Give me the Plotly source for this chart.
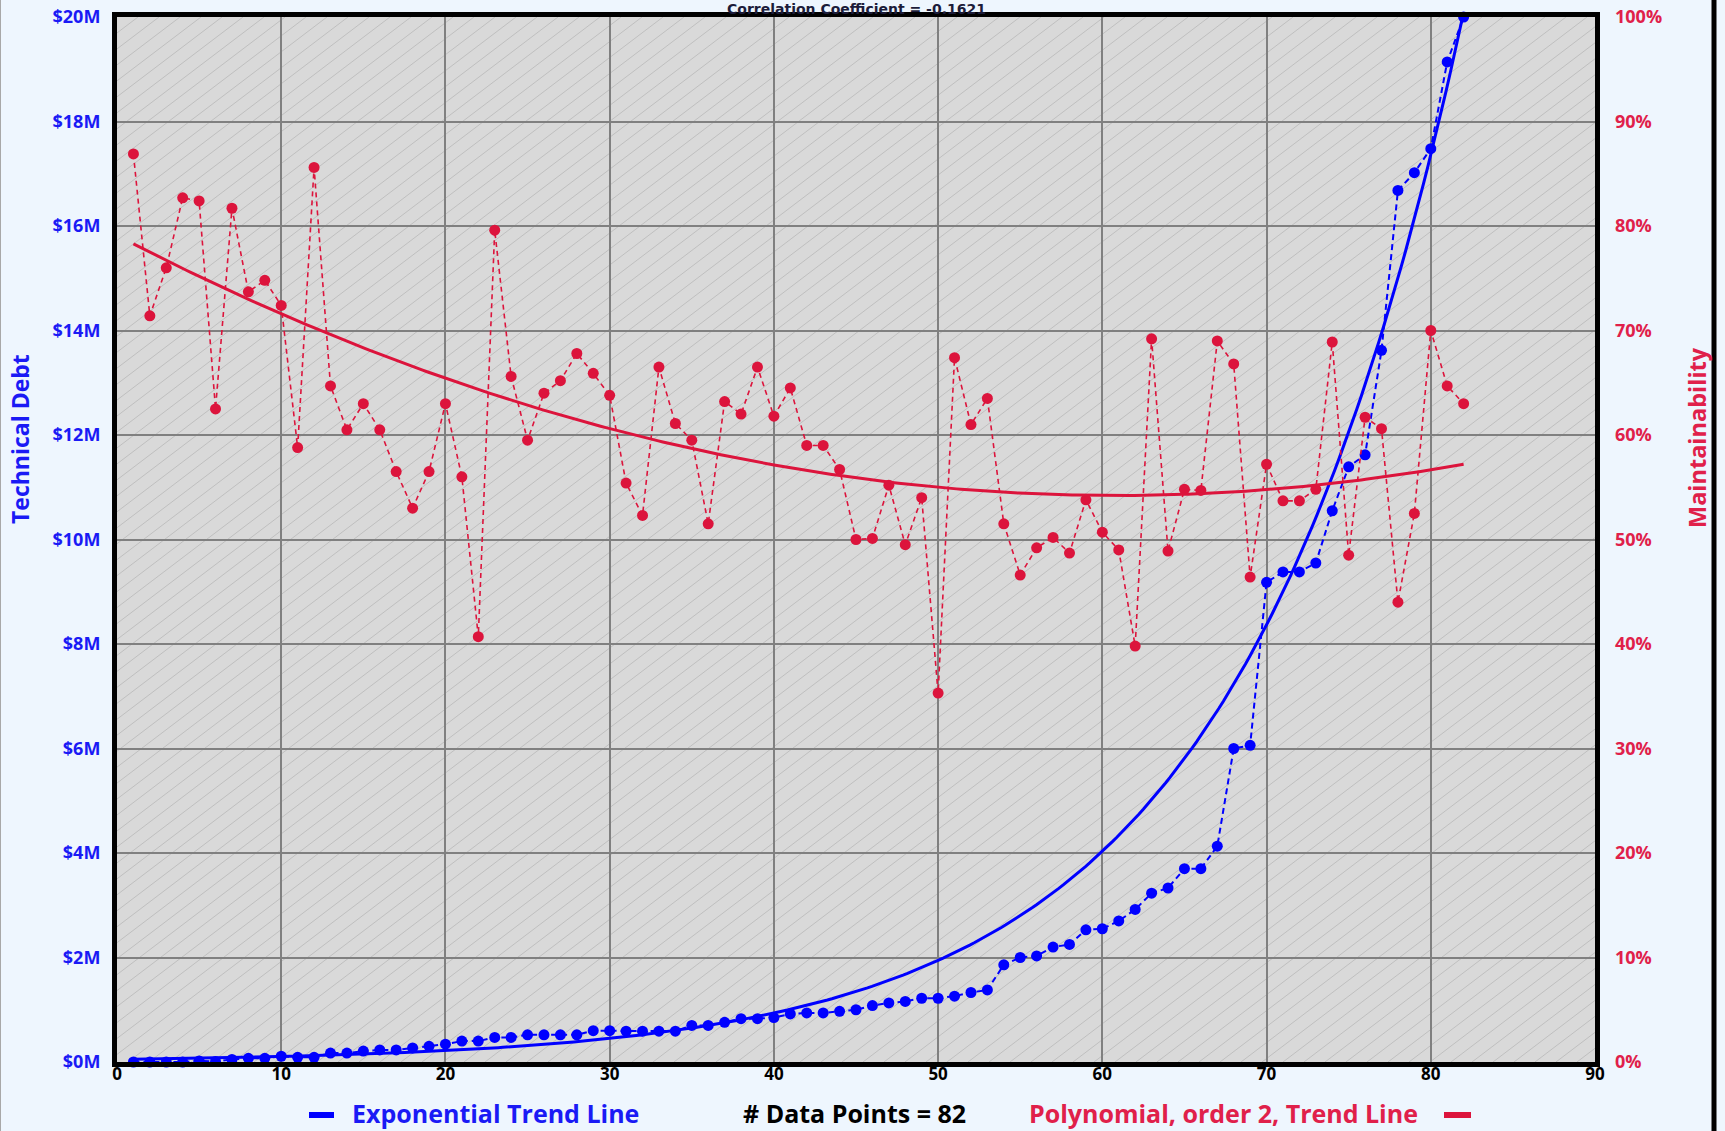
import numpy as np
import plotly.graph_objects as go

# ---- data -------------------------------------------------------------
RUN = list(range(1, 83))

TECH_DEBT_M = [
    0.0, 0.0, 0.0, 0.0, 0.02, 0.01, 0.05, 0.07, 0.07, 0.11,
    0.09, 0.09, 0.17, 0.17, 0.21, 0.23, 0.23, 0.27, 0.30, 0.34,
    0.40, 0.40, 0.47, 0.47, 0.52, 0.52, 0.52, 0.52, 0.60, 0.60,
    0.59, 0.59, 0.59, 0.59, 0.70, 0.70, 0.76, 0.83, 0.83, 0.85,
    0.92, 0.94, 0.94, 0.97, 1.00, 1.08, 1.13, 1.16, 1.22, 1.22,
    1.26, 1.33, 1.38, 1.86, 2.00, 2.03, 2.20, 2.25, 2.53, 2.55,
    2.70, 2.92, 3.23, 3.33, 3.70, 3.70, 4.13, 6.00, 6.06, 9.18,
    9.38, 9.38, 9.55, 10.55, 11.39, 11.62, 13.62, 16.68, 17.02, 17.48,
    19.14, 20.0,
]

MAINTAINABILITY_PCT = [
    86.9, 71.4, 76.0, 82.7, 82.4, 62.5, 81.7, 73.7, 74.8, 72.4,
    58.8, 85.6, 64.7, 60.5, 63.0, 60.5, 56.5, 53.0, 56.5, 63.0,
    56.0, 40.7, 79.6, 65.6, 59.5, 64.0, 65.2, 67.8, 65.9, 63.8,
    55.4, 52.3, 66.5, 61.1, 59.5, 51.5, 63.2, 62.0, 66.5, 61.8,
    64.5, 59.0, 59.0, 56.7, 50.0, 50.1, 55.2, 49.5, 54.0, 35.3,
    67.4, 61.0, 63.5, 51.5, 46.6, 49.2, 50.2, 48.7, 53.8, 50.7,
    49.0, 39.8, 69.2, 48.9, 54.8, 54.7, 69.0, 66.8, 46.4, 57.2,
    53.7, 53.7, 54.8, 68.9, 48.5, 61.7, 60.6, 44.0, 52.5, 70.0,
    64.7, 63.0,
]

X_TICKS = list(range(0, 91, 10))
DEBT_TICKS = list(range(0, 21, 2))
DEBT_TICK_TEXT = [f"${v}M" for v in DEBT_TICKS]
PCT_TICKS = list(range(0, 101, 10))
PCT_TICK_TEXT = [f"{v}%" for v in PCT_TICKS]

CORRELATION_TEXT = "Correlation Coefficient = -0.1621"

# trend-line coefficients
EXP_A, EXP_B = 0.0505, 0.073            # debt ($M) = A * exp(B * run)
POLY_COEFFS = [0.00672, -0.818, 79.1]   # maintainability (%) = a*x^2 + b*x + c

# ---- styling ----------------------------------------------------------
W, H = 1725, 1131
L, R, T, B = 117, 130, 17, 69
PW, PH = W - L - R, H - T - B

BLUE = "#0000FF"
BLUE_TXT = "#1A1AF5"
RED = "#DC143C"
RED_TXT = "#E0204A"
FONT = "Open Sans"


def px_x(p):
    return (p - L) / PW


def px_y(p):
    return (T + PH - p) / PH


def hatch_path(width_px, height_px, spacing, slope):
    segs = []
    d = -height_px / slope
    while d < width_px:
        xa = max(d, 0.0)
        ya = slope * (xa - d)
        xb = min(width_px, d + height_px / slope)
        yb = slope * (xb - d)
        if xb > xa and ya < height_px:
            segs.append(
                f"M{xa / width_px:.5f},{ya / height_px:.5f}"
                f"L{xb / width_px:.5f},{yb / height_px:.5f}"
            )
        d += spacing
    return "".join(segs)


# ---- trend lines --------------------------------------------------------
x_fine = np.linspace(min(RUN), max(RUN), 300)
poly_trend = np.polyval(POLY_COEFFS, x_fine)
exp_trend = EXP_A * np.exp(EXP_B * x_fine)

fig = go.Figure()

fig.add_trace(go.Scatter(
    x=RUN, y=MAINTAINABILITY_PCT, yaxis="y2", mode="lines+markers",
    line=dict(color=RED, width=1.6, dash="5px,4px"),
    marker=dict(color=RED, size=11),
    cliponaxis=False, showlegend=False,
))
fig.add_trace(go.Scatter(
    x=x_fine, y=poly_trend, yaxis="y2", mode="lines",
    line=dict(color=RED, width=3), showlegend=False,
))
fig.add_trace(go.Scatter(
    x=RUN, y=TECH_DEBT_M, mode="lines+markers",
    line=dict(color=BLUE, width=2, dash="6px,4px"),
    marker=dict(color=BLUE, size=11),
    cliponaxis=False, showlegend=False,
))
fig.add_trace(go.Scatter(
    x=x_fine, y=exp_trend, mode="lines",
    line=dict(color=BLUE, width=3), showlegend=False,
))

shapes = [
    # plot background with diagonal hatching
    dict(type="rect", xref="paper", yref="paper", x0=0, x1=1, y0=0, y1=1,
         fillcolor="#D9D9D9", line=dict(width=0), layer="below"),
    dict(type="path", xref="paper", yref="paper",
         path=hatch_path(PW, PH, 21, 0.76),
         line=dict(color="#BFBFBF", width=1), layer="below"),
    # page frame
    dict(type="line", xref="paper", yref="paper",
         x0=px_x(0.5), x1=px_x(0.5), y0=px_y(0), y1=px_y(H),
         line=dict(color="#A8A8A8", width=1)),
    dict(type="line", xref="paper", yref="paper",
         x0=px_x(1714), x1=px_x(1714), y0=px_y(0), y1=px_y(H),
         line=dict(color="black", width=5)),
    # legend swatches
    dict(type="line", xref="paper", yref="paper",
         x0=px_x(309), x1=px_x(334), y0=px_y(1115), y1=px_y(1115),
         line=dict(color=BLUE, width=6)),
    dict(type="line", xref="paper", yref="paper",
         x0=px_x(1444), x1=px_x(1471), y0=px_y(1115), y1=px_y(1115),
         line=dict(color=RED, width=6)),
]

annotations = [
    dict(text=f"<b>{CORRELATION_TEXT}</b>", xref="paper", yref="paper",
         x=0.5, y=1, xanchor="center", yanchor="middle", yshift=8,
         showarrow=False,
         font=dict(family="DejaVu Sans", size=14, color="#1C1C3A")),
    dict(text="<b>Technical Debt</b>", xref="paper", yref="paper",
         x=px_x(20), y=px_y(439), xanchor="center", yanchor="middle",
         textangle=-90, showarrow=False,
         font=dict(family=FONT, size=23, color=BLUE_TXT)),
    dict(text="<b>Maintainability</b>", xref="paper", yref="paper",
         x=px_x(1697), y=px_y(438), xanchor="center", yanchor="middle",
         textangle=-90, showarrow=False,
         font=dict(family=FONT, size=23.5, color=RED_TXT)),
    dict(text="<b>Exponential Trend Line</b>", xref="paper", yref="paper",
         x=px_x(350), y=px_y(1113), xanchor="left", yanchor="middle",
         showarrow=False, font=dict(family=FONT, size=25, color=BLUE_TXT)),
    dict(text=f"<b># Data Points = {len(RUN)}</b>", xref="paper", yref="paper",
         x=px_x(854), y=px_y(1113), xanchor="center", yanchor="middle",
         showarrow=False, font=dict(family=FONT, size=25, color="black")),
    dict(text="<b>Polynomial, order 2, Trend Line</b>", xref="paper", yref="paper",
         x=px_x(1420), y=px_y(1113), xanchor="right", yanchor="middle",
         showarrow=False, font=dict(family=FONT, size=25, color=RED_TXT)),
]

fig.update_layout(
    width=W, height=H,
    margin=dict(l=L, r=R, t=T, b=B, pad=0, autoexpand=False),
    paper_bgcolor="#EEF6FE",
    plot_bgcolor="rgba(0,0,0,0)",
    shapes=shapes,
    annotations=annotations,
    xaxis=dict(
        range=[0, 90], tickvals=X_TICKS, ticks="", automargin=False,
        showgrid=True, gridcolor="#808080", gridwidth=1.5, zeroline=False,
        showline=True, linecolor="black", linewidth=5, mirror=True,
        tickfont=dict(family=FONT, size=17, color="black", weight=700),
        ticklabelstandoff=-7,
    ),
    yaxis=dict(
        range=[0, 20], tickvals=DEBT_TICKS, ticktext=DEBT_TICK_TEXT, ticks="",
        automargin=False,
        showgrid=True, gridcolor="#808080", gridwidth=1.5, zeroline=False,
        showline=True, linecolor="black", linewidth=5, mirror=True,
        tickfont=dict(family=FONT, size=18, color=BLUE_TXT, weight=700),
        ticklabelstandoff=8,
    ),
    yaxis2=dict(
        range=[0, 100], tickvals=PCT_TICKS, ticktext=PCT_TICK_TEXT, ticks="",
        automargin=False,
        overlaying="y", side="right", showgrid=False, zeroline=False,
        showline=False,
        tickfont=dict(family=FONT, size=18, color=RED_TXT, weight=700),
        ticklabelstandoff=19,
    ),
)

fig.write_html("out.html")
